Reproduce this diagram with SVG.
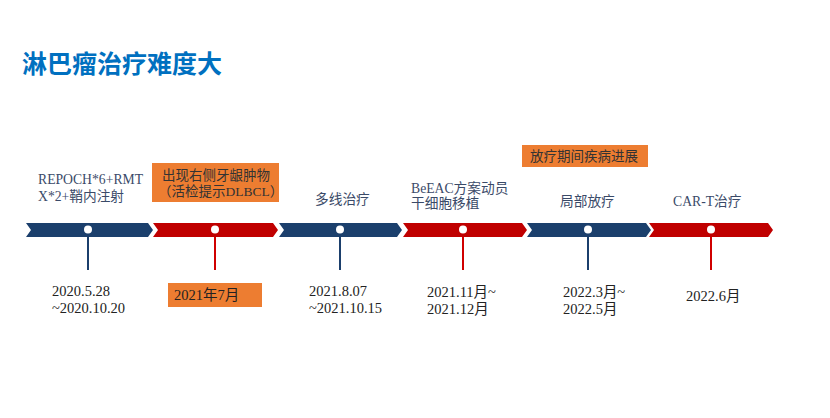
<svg xmlns="http://www.w3.org/2000/svg" width="830" height="418" viewBox="0 0 830 418">
<style>
.title{font-family:"Noto Sans CJK SC","Noto Sans",sans-serif;font-weight:bold;font-size:25px;fill:#0070C0}
.lbl{font-family:"Liberation Serif","Noto Sans CJK SC",serif;font-size:13.7px;fill:#3a4a68}
.box{font-family:"Liberation Serif","Noto Sans CJK SC",serif;font-size:13.5px;fill:#333}
.date{font-family:"Liberation Serif","Noto Sans CJK SC",serif;font-size:14.5px;fill:#222}
.ob{fill:#ED7D31}
.blue{fill:#1B3F6C}
.red{fill:#C00000}
.dot{fill:#fff}
.sb{stroke:#1B3F6C;stroke-width:2}
.sr{stroke:#D00000;stroke-width:2}
</style>
<rect width="830" height="418" fill="#fff"/>
<text class="title" x="22" y="73">淋巴瘤治疗难度大</text>
<g id="connectors">
<line class="sb" x1="88" y1="229" x2="88" y2="270"/>
<line class="sr" x1="215" y1="229" x2="215" y2="270"/>
<line class="sb" x1="340" y1="229" x2="340" y2="270"/>
<line class="sr" x1="463" y1="229" x2="463" y2="270"/>
<line class="sb" x1="588" y1="229" x2="588" y2="270"/>
<line class="sr" x1="711" y1="229" x2="711" y2="270"/>
</g>
<g id="seg1">
<polygon class="blue" points="26,223 148,223 153,230 148,237 26,237 31,230"/>
<circle class="dot" cx="88" cy="229.5" r="4"/>
<text class="lbl" x="38" y="184">REPOCH*6+RMT</text>
<text class="lbl" x="38" y="201">X*2+鞘内注射</text>
<text class="date" x="52" y="296">2020.5.28</text>
<text class="date" x="52" y="313">~2020.10.20</text>
</g>
<g id="seg2">
<polygon class="red" points="153,223 273,223 278,230 273,237 153,237 158,230"/>
<circle class="dot" cx="215" cy="229.5" r="4"/>
<rect class="ob" x="152" y="163" width="127" height="39"/>
<text class="box" x="162" y="180">出现右侧牙龈肿物</text>
<text class="box" x="158" y="196">（活检提示DLBCL）</text>
<rect class="ob" x="168" y="283" width="94" height="24"/>
<text class="date" x="174" y="300">2021年7月</text>
</g>
<g id="seg3">
<polygon class="blue" points="279,223 397,223 402,230 397,237 279,237 284,230"/>
<circle class="dot" cx="340" cy="229.5" r="4"/>
<text class="lbl" x="315" y="204">多线治疗</text>
<text class="date" x="309" y="296">2021.8.07</text>
<text class="date" x="309" y="313">~2021.10.15</text>
</g>
<g id="seg4">
<polygon class="red" points="403,223 522,223 527,230 522,237 403,237 408,230"/>
<circle class="dot" cx="463" cy="229.5" r="4"/>
<text class="lbl" x="411" y="193">BeEAC方案动员</text>
<text class="lbl" x="411" y="208">干细胞移植</text>
<text class="date" x="427" y="297">2021.11月~</text>
<text class="date" x="427" y="314">2021.12月</text>
</g>
<g id="seg5">
<polygon class="blue" points="527,223 646,223 651,230 646,237 527,237 532,230"/>
<circle class="dot" cx="588" cy="229.5" r="4"/>
<rect class="ob" x="522" y="145" width="126" height="22"/>
<text class="box" x="530" y="161">放疗期间疾病进展</text>
<text class="lbl" x="560" y="206">局部放疗</text>
<text class="date" x="563" y="297">2022.3月~</text>
<text class="date" x="563" y="314">2022.5月</text>
</g>
<g id="seg6">
<polygon class="red" points="649,223 768,223 773,230 768,237 649,237 654,230"/>
<circle class="dot" cx="711" cy="229.5" r="4"/>
<text class="lbl" x="673" y="206">CAR-T治疗</text>
<text class="date" x="686" y="301">2022.6月</text>
</g>
</svg>
